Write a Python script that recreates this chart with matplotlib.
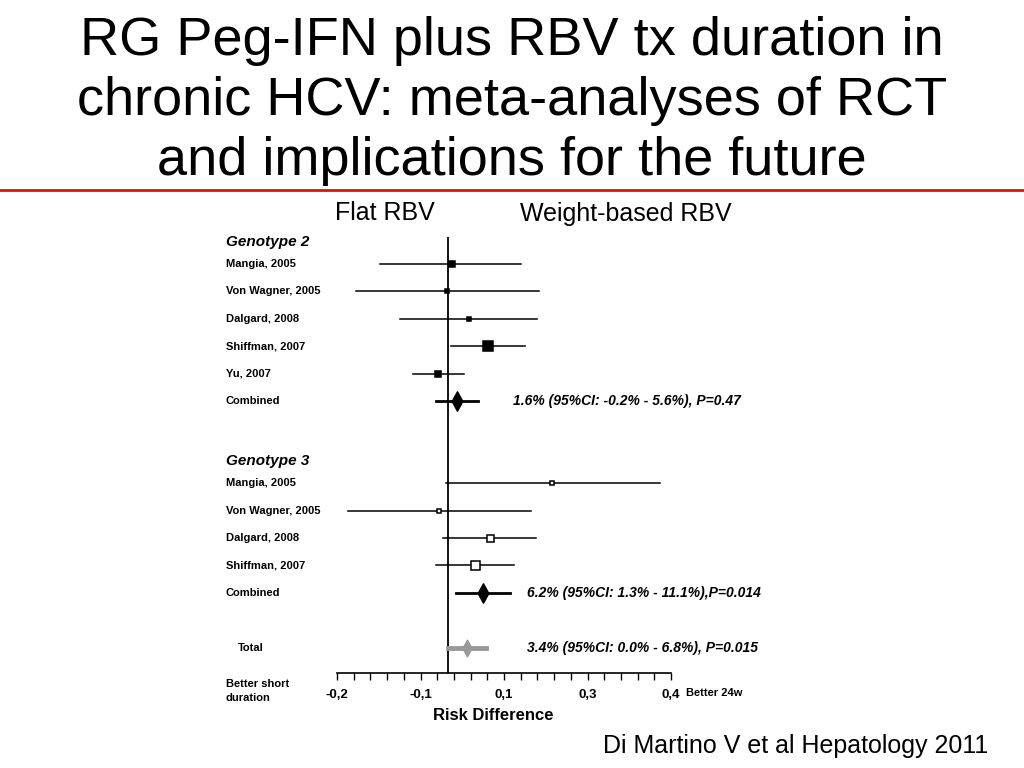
import matplotlib
matplotlib.use("Agg")
import matplotlib.pyplot as plt
from matplotlib.lines import Line2D
from matplotlib.path import Path

# === Données (différence de risque) ===
g2_studies = ["Mangia, 2005", "Von Wagner, 2005", "Dalgard, 2008", "Shiffman, 2007", "Yu, 2007"]
g2_est = [0.007, -0.002, 0.038, 0.072, -0.018]
g2_lo = [-0.122, -0.165, -0.086, 0.004, -0.063]
g2_hi = [0.131, 0.163, 0.160, 0.138, 0.029]
g2_weight = [6, 3.5, 5, 10, 6]

g3_studies = ["Mangia, 2005", "Von Wagner, 2005", "Dalgard, 2008", "Shiffman, 2007"]
g3_est = [0.187, -0.016, 0.075, 0.048]
g3_lo = [-0.004, -0.180, -0.009, -0.022]
g3_hi = [0.381, 0.149, 0.158, 0.118]
g3_weight = [3.5, 4, 7, 9]

# combinés : estimation, IC bas, IC haut
g2_comb = [0.016, -0.023, 0.054]
g3_comb = [0.063, 0.013, 0.111]
total_comb = [0.034, 0.000, 0.068]

g2_text = "1.6% (95%CI: -0.2% - 5.6%), P=0.47"
g3_text = "6.2% (95%CI: 1.3% - 11.1%),P=0.014"
total_text = "3.4% (95%CI: 0.0% - 6.8%), P=0.015"

tick_pos = [-0.2, -0.05, 0.1, 0.25, 0.4]
tick_lab = ["-0,2", "-0,1", "0,1", "0,3", "0,4"]

plt.rcParams["font.family"] = ["Liberation Sans", "DejaVu Sans"]

W, H = 1024, 768
fig = plt.figure(figsize=(W / 100, H / 100), dpi=100)

# titre
fig.text(0.5, 1 - 101 / H,
         "RG Peg-IFN plus RBV tx duration in\nchronic HCV: meta-analyses of RCT\nand implications for the future",
         ha="center", va="center", fontsize=39, linespacing=1.26)
fig.add_artist(Line2D([0, 1], [1 - 190 / H, 1 - 190 / H], color="#e01010", lw=2))

fig.text(385 / W, 1 - 213 / H, "Flat RBV", ha="center", va="center", fontsize=18)
fig.text(626 / W, 1 - 214 / H, "Weight-based RBV", ha="center", va="center", fontsize=18)
fig.text(988 / W, 1 - 746 / H, "Di Martino V et al Hepatology 2011",
         ha="right", va="center", fontsize=18)

# axe du forest plot : x de -0.2 à 0.4, y en lignes
ax_l, ax_r, ax_t, ax_b = 337, 671, 236.6, 673
ax = fig.add_axes([ax_l / W, 1 - ax_b / H, (ax_r - ax_l) / W, (ax_b - ax_t) / H])
row_px = 27.4
ax.set_xlim(-0.2, 0.4)
ax.set_ylim((ax_b - ax_t) / row_px, 0)
for s in ["top", "right", "left"]:
    ax.spines[s].set_visible(False)
ax.spines["bottom"].set_linewidth(1.2)
ax.set_yticks([])
ax.set_xticks([-0.2 + 0.03 * i for i in range(21)])
ax.tick_params(axis="x", direction="out", length=5, width=1)
ax.set_xticklabels([])
y_lab = (ax_b - ax_t + 22) / row_px
for p, l in zip(tick_pos, tick_lab):
    ax.text(p, y_lab, l, ha="center", va="center",
            fontsize=9.5, fontweight="bold", clip_on=False)
ax.text(0.081, (ax_b - ax_t + 42) / row_px, "Risk Difference", ha="center", va="center",
        fontsize=12, fontweight="bold", clip_on=False)

ax.axvline(0, color="black", lw=1.3)

diamond = Path([(0, 1), (0.55, 0), (0, -1), (-0.55, 0), (0, 1)],
               [Path.MOVETO, Path.LINETO, Path.LINETO, Path.LINETO, Path.CLOSEPOLY])

lab_tr = ax.get_yaxis_transform()
lab_x = (226 - ax_l) / (ax_r - ax_l)


def draw_block(header, y0, studies, est, lo, hi, w, open_sq, comb, ctext, tx):
    ax.text(lab_x, y0 + 0.2, header, transform=lab_tr, ha="left", va="center",
            fontsize=11, fontweight="bold", style="italic", clip_on=False)
    for i, name in enumerate(studies):
        y = y0 + 1 + i
        ax.text(lab_x, y, name, transform=lab_tr, ha="left", va="center",
                fontsize=8, fontweight="bold", clip_on=False)
        ax.plot([lo[i], hi[i]], [y, y], color="black", lw=1.1)
        ax.plot(est[i], y, marker="s", ms=w[i] * 0.72,
                mfc="white" if open_sq else "black", mec="black", mew=1.1)
    y = y0 + 1 + len(studies)
    ax.text(lab_x, y, "Combined", transform=lab_tr, ha="left", va="center",
            fontsize=8, fontweight="bold", clip_on=False)
    ax.plot([comb[1], comb[2]], [y, y], color="black", lw=2)
    ax.plot(comb[0], y, marker=diamond, ms=14, color="black")
    ax.text(tx, y, ctext, ha="left", va="center",
            fontsize=10, fontweight="bold", style="italic", clip_on=False)


draw_block("Genotype 2", 0, g2_studies, g2_est, g2_lo, g2_hi, g2_weight, False,
           g2_comb, g2_text, 0.117)
draw_block("Genotype 3", 8, g3_studies, g3_est, g3_lo, g3_hi, g3_weight, True,
           g3_comb, g3_text, 0.142)

# total
ax.text(lab_x + 0.035, 15, "Total", transform=lab_tr, ha="left", va="center",
        fontsize=8, fontweight="bold", clip_on=False)
ax.plot([total_comb[1], total_comb[2]], [15, 15], color="#999999", lw=3.5)
ax.plot(total_comb[0], 15, marker=diamond, ms=12, color="#999999")
ax.text(0.142, 15, total_text, ha="left", va="center",
        fontsize=10, fontweight="bold", style="italic", clip_on=False)

ax.text(lab_x, (ax_b - ax_t + 18) / row_px, "Better short\nduration", transform=lab_tr,
        ha="left", va="center", fontsize=8, fontweight="bold", clip_on=False, linespacing=1.6)
ax.text(1.045, (ax_b - ax_t + 20) / row_px, "Better 24w", transform=lab_tr,
        ha="left", va="center", fontsize=8, fontweight="bold", clip_on=False)

fig.savefig("out.png", dpi=100)
